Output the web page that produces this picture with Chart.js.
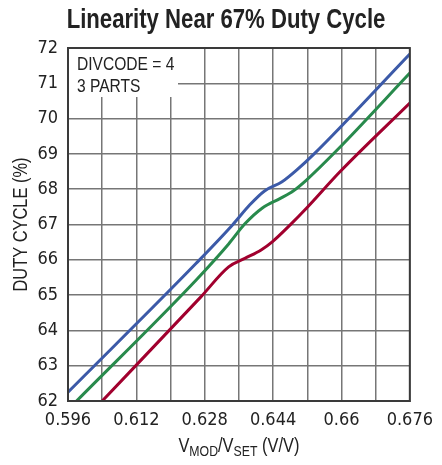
<!DOCTYPE html>
<html>
<head>
<meta charset="utf-8">
<script src="https://cdn.jsdelivr.net/npm/chart.js@4"></script>
<style>
  html, body { margin: 0; padding: 0; background: #fff; }
  #wrap { width: 442px; height: 465px; }
</style>
</head>
<body>
<div id="wrap"><canvas id="chart" width="442" height="465"></canvas></div>
<script>
// V_MOD/V_SET readings and duty cycle (%) for the three parts
const blueX = [0.596, 0.626, 0.6346, 0.6385, 0.6420, 0.6461, 0.6495, 0.6536, 0.676];
const blueY = [62.25, 65.90, 67.00, 67.55, 67.95, 68.21, 68.54, 69.00, 71.83];
const greenX = [0.598, 0.626, 0.6336, 0.6374, 0.6415, 0.6457, 0.6487, 0.6518, 0.659, 0.676];
const greenY = [62.0, 65.43, 66.45, 67.02, 67.47, 67.74, 67.95, 68.26, 69.11, 71.29];
const redX = [0.604, 0.6271, 0.6336, 0.6374, 0.6412, 0.6438, 0.648, 0.6518, 0.6597, 0.676];
const redY = [62.0, 64.95, 65.80, 66.04, 66.28, 66.51, 66.99, 67.46, 68.50, 70.44];

const xTicks = [0.596, 0.612, 0.628, 0.644, 0.66, 0.676];
const titleText = 'Linearity Near 67% Duty Cycle';
const noteLines = ['DIVCODE = 4', '3 PARTS'];

const TICK_FONT = "'DejaVu Sans Condensed', sans-serif";
const NARROW = "'Liberation Sans', Arial, sans-serif";
const SQUEEZE = 0.82;   // horizontal squeeze to get a narrow face

function points(xs, ys) {
    return xs.map((x, i) => ({x: x, y: ys[i]}));
}

function series(label, xs, ys, color) {
    return {
        label: label,
        data: points(xs, ys),
        borderColor: color,
        borderWidth: 3,
        pointRadius: 0,
        fill: false,
        cubicInterpolationMode: 'monotone'
    };
}

// draw text with a narrow look: squeeze horizontally around (x, y)
function narrowText(ctx, text, x, y, font, align) {
    ctx.save();
    ctx.font = font;
    ctx.textAlign = align || 'left';
    ctx.translate(x, y);
    ctx.scale(SQUEEZE, 1);
    ctx.fillText(text, 0, 0);
    ctx.restore();
}

function narrowWidth(ctx, text, font) {
    ctx.save();
    ctx.font = font;
    const w = ctx.measureText(text).width * SQUEEZE;
    ctx.restore();
    return w;
}

// white note box in the top left corner, over the grid
const noteBox = {
    id: 'noteBox',
    beforeDatasetsDraw(chart) {
        const {ctx, chartArea} = chart;
        ctx.save();
        ctx.fillStyle = '#fff';
        ctx.fillRect(chartArea.left + 1, chartArea.top + 1, 109, 48);
        ctx.fillStyle = '#222';
        ctx.textBaseline = 'alphabetic';
        const f = '19px ' + NARROW;
        narrowText(ctx, noteLines[0], chartArea.left + 9, chartArea.top + 22, f);
        narrowText(ctx, noteLines[1], chartArea.left + 9, chartArea.top + 44, f);
        ctx.restore();
    }
};

// frame, chart title and axis titles (x title needs subscripts)
const frameAndTitles = {
    id: 'frameAndTitles',
    afterDraw(chart) {
        const {ctx, chartArea} = chart;
        const midX = (chartArea.left + chartArea.right) / 2;
        ctx.save();
        ctx.strokeStyle = '#3a3a3a';
        ctx.lineWidth = 2;
        ctx.strokeRect(chartArea.left, chartArea.top, chartArea.right - chartArea.left, chartArea.bottom - chartArea.top);

        ctx.fillStyle = '#222';
        ctx.textBaseline = 'alphabetic';
        narrowText(ctx, titleText, 226, 28, 'bold 27px ' + NARROW, 'center');

        const big = '20px ' + NARROW;
        const small = '15px ' + NARROW;
        const parts = [['V', big, 0], ['MOD', small, 4], ['/V', big, 0], ['SET', small, 4], [' (V/V)', big, 0]];
        let total = 0;
        parts.forEach(p => { total += narrowWidth(ctx, p[0], p[1]); });
        let x = midX - total / 2;
        parts.forEach(p => {
            narrowText(ctx, p[0], x, 452 + p[2], p[1]);
            x += narrowWidth(ctx, p[0], p[1]);
        });

        ctx.translate(27, (chartArea.top + chartArea.bottom) / 2);
        ctx.rotate(-Math.PI / 2);
        narrowText(ctx, 'DUTY CYCLE (%)', 0, 0, '20px ' + NARROW, 'center');
        ctx.restore();
    }
};

const ctx = document.getElementById('chart').getContext('2d');

new Chart(ctx, {
    type: 'line',
    data: {
        datasets: [
            series('Part 1', blueX, blueY, '#3c5aa8'),
            series('Part 2', greenX, greenY, '#288a4c'),
            series('Part 3', redX, redY, '#a1002e')
        ]
    },
    options: {
        responsive: false,
        animation: false,
        layout: {
            padding: {top: 48, left: 0, right: 22, bottom: 0}
        },
        plugins: {
            legend: {display: false},
            tooltip: {enabled: false},
            title: {display: false}
        },
        scales: {
            x: {
                type: 'linear',
                min: 0.596,
                max: 0.676,
                afterBuildTicks: (scale) => {
                    scale.ticks = [];
                    for (let i = 0; i <= 10; i++) {
                        scale.ticks.push({value: 0.596 + i * 0.008});
                    }
                },
                afterFit: (scale) => { scale.height = 64; },
                ticks: {
                    autoSkip: false,
                    maxRotation: 0,
                    padding: 9,
                    color: '#222',
                    font: {family: TICK_FONT, size: 18},
                    callback: (value, index) => {
                        if (index % 2) return '';
                        return String(xTicks[index / 2]);
                    }
                },
                grid: {color: '#767676', lineWidth: 1.5, drawTicks: false},
                border: {color: '#3a3a3a', width: 2}
            },
            y: {
                min: 62,
                max: 72,
                afterFit: (scale) => { scale.width = 68; },
                ticks: {
                    stepSize: 1,
                    padding: 10,
                    color: '#222',
                    font: {family: TICK_FONT, size: 18}
                },
                grid: {color: '#767676', lineWidth: 1.5, drawTicks: false},
                border: {color: '#3a3a3a', width: 2}
            }
        }
    },
    plugins: [noteBox, frameAndTitles]
});
</script>
</body>
</html>
